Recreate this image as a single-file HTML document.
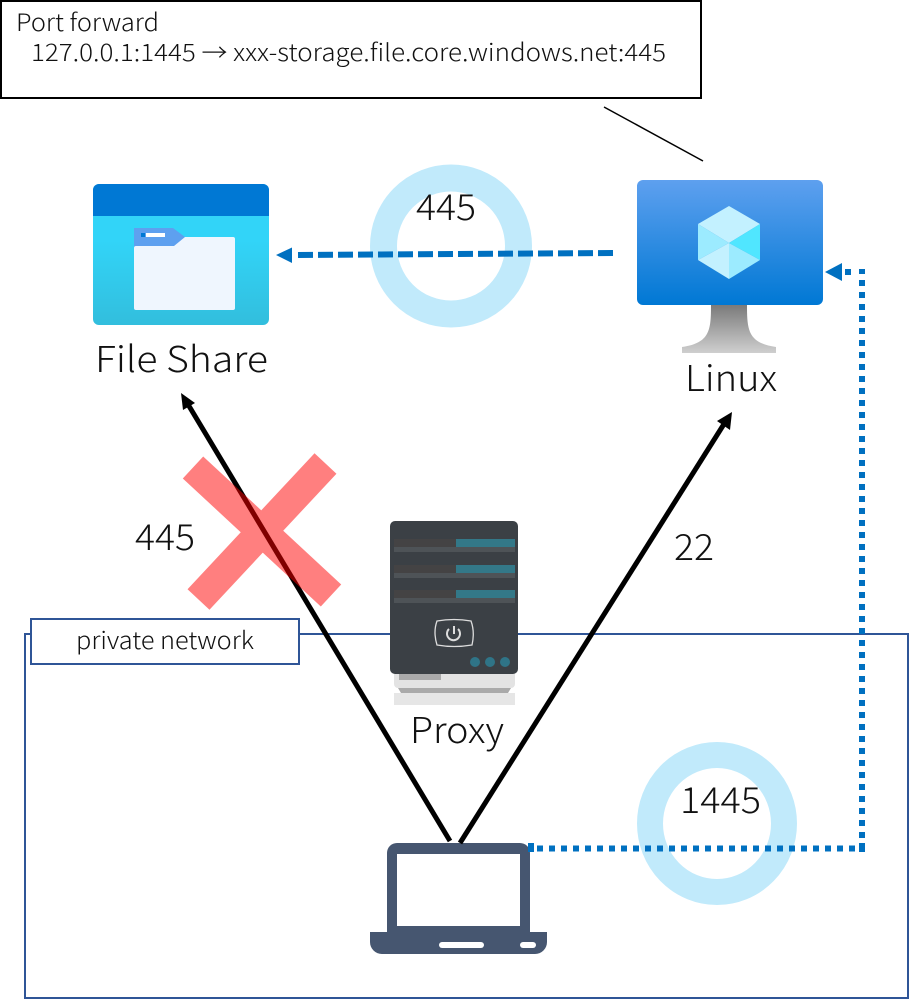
<!DOCTYPE html>
<html>
<head>
<meta charset="utf-8">
<style>
html,body{margin:0;padding:0;background:#fff;width:909px;height:1000px;overflow:hidden}
svg{display:block}
text{font-family:"Noto Sans CJK JP","Liberation Sans",sans-serif;font-weight:300;fill:#111}
.l{font-size:36px}
.s{font-size:24px}
</style>
</head>
<body>
<svg width="909" height="1000" viewBox="0 0 909 1000" xmlns="http://www.w3.org/2000/svg">
<defs>
<linearGradient id="fs" x1="0" y1="0" x2="0" y2="1"><stop offset="0" stop-color="#32d4f8"/><stop offset="0.4" stop-color="#32d4f8"/><stop offset="1" stop-color="#32bedd"/></linearGradient>
<linearGradient id="vm" x1="0" y1="0" x2="0" y2="1"><stop offset="0" stop-color="#5ea0ef"/><stop offset="1" stop-color="#0078d4"/></linearGradient>
<linearGradient id="st" x1="0" y1="0" x2="0" y2="1"><stop offset="0" stop-color="#7a7a7a"/><stop offset="1" stop-color="#cfcfcf"/></linearGradient>
</defs>

<!-- top note -->
<rect x="1" y="1" width="700" height="97" fill="#fff" stroke="#000" stroke-width="2"/>
<text class="s" x="16" y="31" textLength="143" lengthAdjust="spacingAndGlyphs">Port forward</text>
<text class="s" x="31" y="61" textLength="635" lengthAdjust="spacingAndGlyphs">127.0.0.1:1445 → xxx-storage.file.core.windows.net:445</text>
<line x1="604" y1="107" x2="703" y2="161" stroke="#000" stroke-width="1.5"/>

<!-- donuts -->
<ellipse cx="451" cy="246" rx="67.5" ry="68" fill="none" stroke="#c1eafb" stroke-width="27"/>
<ellipse cx="717" cy="823.5" rx="67" ry="68.5" fill="none" stroke="#c1eafb" stroke-width="26"/>

<!-- private network -->
<rect x="25" y="634" width="883" height="364" fill="none" stroke="#2f5597" stroke-width="2"/>
<rect x="31" y="619" width="268" height="45" fill="#fff" stroke="#2f5597" stroke-width="2"/>
<text class="s" x="76" y="649" textLength="178" lengthAdjust="spacingAndGlyphs">private network</text>

<!-- file share icon -->
<rect x="93" y="184" width="176" height="141" rx="6" fill="url(#fs)"/>
<path d="M93 216V190a6 6 0 0 1 6-6H263a6 6 0 0 1 6 6V216Z" fill="#0078d4"/>
<rect x="134" y="237" width="101" height="73" rx="2" fill="#eff6fe"/>
<path d="M134 228H173L185 237L174 246H136Q134 246 134 248Z" fill="#5ea0ef"/>
<rect x="141" y="233" width="4" height="4" fill="#0078d4"/>
<rect x="146" y="233" width="19" height="4" fill="#fff"/>
<text class="l" x="95" y="372" textLength="173" lengthAdjust="spacingAndGlyphs">File Share</text>

<!-- VM icon -->
<path d="M711 305H747C747 330 748 343 776 347V353H682V347C710 343 711 330 711 305Z" fill="url(#st)"/>
<rect x="637" y="180" width="186" height="125" rx="6" fill="url(#vm)"/>
<polygon points="729,206 760,224 729,243 698,224" fill="#c3f1ff"/>
<polygon points="760,224 760,260 729,243" fill="#50e6ff"/>
<polygon points="698,224 729,243 698,260" fill="#9cebff"/>
<polygon points="698,260 729,243 729,279" fill="#c3f1ff"/>
<polygon points="729,243 760,260 729,279" fill="#9cebff"/>
<text class="l" x="685" y="391" textLength="92" lengthAdjust="spacingAndGlyphs">Linux</text>

<!-- proxy server icon -->
<rect x="394" y="670" width="121" height="18" rx="4" fill="#e3e3e3"/>
<rect x="399" y="674" width="42" height="6" fill="#aaa"/>
<polygon points="398,688 511,688 508,693 401,693" fill="#aaa"/>
<rect x="394" y="693" width="121" height="12" fill="#e6e6e6"/>
<rect x="390" y="521" width="128" height="153" rx="5" fill="#3b4045"/>
<g>
<rect x="394" y="539" width="62" height="8" fill="#444344"/><rect x="456" y="539" width="59" height="8" fill="#337888"/><rect x="394" y="547" width="121" height="5" fill="#4e5357"/>
<rect x="394" y="565" width="62" height="8" fill="#444344"/><rect x="456" y="565" width="59" height="8" fill="#337888"/><rect x="394" y="573" width="121" height="5" fill="#4e5357"/>
<rect x="394" y="590" width="62" height="8" fill="#444344"/><rect x="456" y="590" width="59" height="8" fill="#337888"/><rect x="394" y="598" width="121" height="5" fill="#4e5357"/>
</g>
<path d="M437 621Q454 618 471 621Q475 632 472 645Q454 648 437 645Q433 632 437 621Z" fill="none" stroke="#ddd" stroke-width="1.3"/>
<path d="M449 629a6.5 6.5 0 1 0 9 0" fill="none" stroke="#ddd" stroke-width="2"/>
<line x1="454" y1="626" x2="454" y2="634" stroke="#ddd" stroke-width="2"/>
<circle cx="475" cy="662" r="5" fill="#2f7487"/><circle cx="490" cy="662" r="5" fill="#2f7487"/><circle cx="505" cy="662" r="5" fill="#2f7487"/>
<text class="l" x="410" y="743" textLength="94" lengthAdjust="spacingAndGlyphs">Proxy</text>

<!-- laptop -->
<path d="M387 932V853a10 10 0 0 1 10-10H520a10 10 0 0 1 10 10V932H547V942a12 12 0 0 1-12 12H382a12 12 0 0 1-12-12V932Z" fill="#465670"/>
<rect x="397" y="854" width="123" height="72" fill="#fff"/>
<rect x="439" y="942" width="45" height="6" rx="3" fill="#fff"/>
<rect x="520" y="942" width="16" height="6" rx="3" fill="#fff"/>

<!-- black arrows -->
<line x1="450" y1="841" x2="189" y2="406" stroke="#000" stroke-width="5"/>
<polygon points="181,393 195,403 183,410" fill="#000"/>
<line x1="460" y1="843" x2="724" y2="424" stroke="#000" stroke-width="5"/>
<polygon points="732,412 730,430 717,421" fill="#000"/>

<!-- red X -->
<g opacity="0.5" stroke="#ff0000" stroke-width="30" fill="none">
<path d="M193 467.5L331 595.5M325.5 463.5L198.5 599.5"/>
</g>

<!-- blue dashed -->
<line x1="613" y1="253" x2="298" y2="255" stroke="#0070c0" stroke-width="6" stroke-dasharray="15 5"/>
<polygon points="276,255 292,247.5 292,263" fill="#0070c0"/>

<!-- blue dotted -->
<path d="M537 848.5H855" fill="none" stroke="#0070c0" stroke-width="6" stroke-dasharray="6 6"/>
<path d="M862 838V279" fill="none" stroke="#0070c0" stroke-width="6" stroke-dasharray="6 6"/>
<rect x="528" y="843" width="6" height="9" fill="#0070c0"/>
<rect x="859" y="843" width="6" height="9" fill="#0070c0"/>
<rect x="859" y="269" width="6" height="5" fill="#0070c0"/>
<rect x="845" y="269" width="6" height="6" fill="#0070c0"/>
<polygon points="825,272 842,263 842,281" fill="#0070c0"/>

<!-- labels -->
<text class="l" x="416" y="220" textLength="60" lengthAdjust="spacingAndGlyphs">445</text>
<text class="l" x="135" y="550" textLength="60" lengthAdjust="spacingAndGlyphs">445</text>
<text class="l" x="674" y="560" textLength="40" lengthAdjust="spacingAndGlyphs">22</text>
<text class="l" x="680" y="813" textLength="81" lengthAdjust="spacingAndGlyphs">1445</text>
</svg>
</body>
</html>
